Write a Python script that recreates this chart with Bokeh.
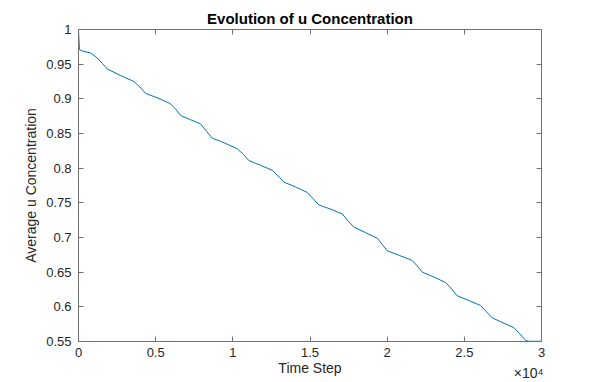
from bokeh.plotting import figure
from bokeh.models import LinearAxis, FixedTicker, Range1d, Title
from bokeh.embed import file_html
from bokeh.resources import INLINE

# ---- data ----
time_step = [0, 60, 250, 800, 1210, 1550, 1860, 2700, 3590, 3980, 4340,
             5150, 5960, 6300, 6610, 7250, 7900, 8300, 8680, 9200, 10285,
             10680, 11040, 11800, 12550, 12930, 13300, 14060, 14820, 15200,
             15570, 16330, 17090, 17460, 17840, 18600, 19360, 19680, 20000,
             20800, 21620, 21950, 22270, 23030, 23790, 24170, 24540, 25300,
             26050, 26430, 26810, 27500, 28210, 28600, 28970, 29200, 30000]
avg_u = [1.0, 0.971, 0.969, 0.966, 0.959, 0.951, 0.943, 0.934, 0.925, 0.917,
         0.908, 0.901, 0.893, 0.885, 0.876, 0.870, 0.864, 0.853, 0.843, 0.839,
         0.828, 0.820, 0.811, 0.804, 0.797, 0.789, 0.780, 0.773, 0.765, 0.756,
         0.747, 0.741, 0.734, 0.724, 0.715, 0.707, 0.699, 0.690, 0.681, 0.674,
         0.667, 0.659, 0.650, 0.643, 0.635, 0.626, 0.616, 0.609, 0.602, 0.593,
         0.584, 0.577, 0.570, 0.561, 0.5515, 0.5503, 0.5503]

x_ticks = [0, 5000, 10000, 15000, 20000, 25000, 30000]
x_tick_labels = ["0", "0.5", "1", "1.5", "2", "2.5", "3"]
y_ticks = [0.55, 0.6, 0.65, 0.7, 0.75, 0.8, 0.85, 0.9, 0.95, 1.0]
y_tick_labels = ["0.55", "0.6", "0.65", "0.7", "0.75", "0.8", "0.85", "0.9", "0.95", "1"]

title_text = "Evolution of u Concentration"
x_label = "Time Step"
y_label = "Average u Concentration"
exp_text = "\u00d710\u2074"

FONT = "Liberation Sans"
TXT = "#262626"
AX = "#707070"
LINE = "#0072BD"

p = figure(frame_width=463, frame_height=312,
           x_range=Range1d(0, 30000), y_range=Range1d(0.55, 1.0),
           output_backend="svg", toolbar_location=None,
           min_border_left=78, min_border_top=29, min_border_right=57,
           min_border_bottom=41, title=title_text)
p.background_fill_color = "white"
p.border_fill_color = "white"
p.outline_line_color = None
p.xgrid.visible = False
p.ygrid.visible = False

p.title.text_font = FONT
p.title.text_font_size = "15px"
p.title.text_font_style = "bold"
p.title.text_color = "#000000"
p.title.align = "center"
p.title.standoff = 6
p.title.offset = 0

def style_axis(ax, ticks, labels):
    ax.ticker = FixedTicker(ticks=ticks)
    ax.axis_line_color = AX
    ax.axis_line_width = 1
    ax.major_tick_line_color = AX
    ax.major_tick_line_width = 1
    ax.major_tick_in = 5
    ax.major_tick_out = 0
    ax.minor_tick_in = 0
    ax.minor_tick_out = 0
    ax.major_label_text_font = FONT
    ax.major_label_text_color = TXT
    ax.major_label_text_font_size = "13px"
    ax.major_label_overrides = dict(zip(ticks, labels))

xa = p.xaxis[0]
style_axis(xa, x_ticks, x_tick_labels)
xa.major_label_standoff = 6
xa.axis_label = x_label
xa.axis_label_text_font = FONT
xa.axis_label_text_font_size = "14px"
xa.axis_label_text_font_style = "normal"
xa.axis_label_text_color = TXT
xa.axis_label_standoff = 0

ya = p.yaxis[0]
style_axis(ya, y_ticks, y_tick_labels)
ya.major_label_standoff = 7
ya.axis_label = y_label
ya.axis_label_text_font = FONT
ya.axis_label_text_font_size = "14px"
ya.axis_label_text_font_style = "normal"
ya.axis_label_text_color = TXT
ya.axis_label_standoff = 4

top_ax = LinearAxis()
style_axis(top_ax, x_ticks, [""] * len(x_ticks))
top_ax.major_label_standoff = 0
p.add_layout(top_ax, "above")
right_ax = LinearAxis()
style_axis(right_ax, y_ticks, [""] * len(y_ticks))
right_ax.major_label_standoff = 0
p.add_layout(right_ax, "right")

p.line(time_step, avg_u, line_color=LINE, line_width=1)

exp_title = Title(text=exp_text, align="right", vertical_align="top",
                  offset=-2, standoff=-27,
                  text_font=FONT, text_font_size="14px",
                  text_font_style="normal", text_color=TXT)
p.add_layout(exp_title, "below")

open("out.html", "w").write(file_html(p, INLINE))
